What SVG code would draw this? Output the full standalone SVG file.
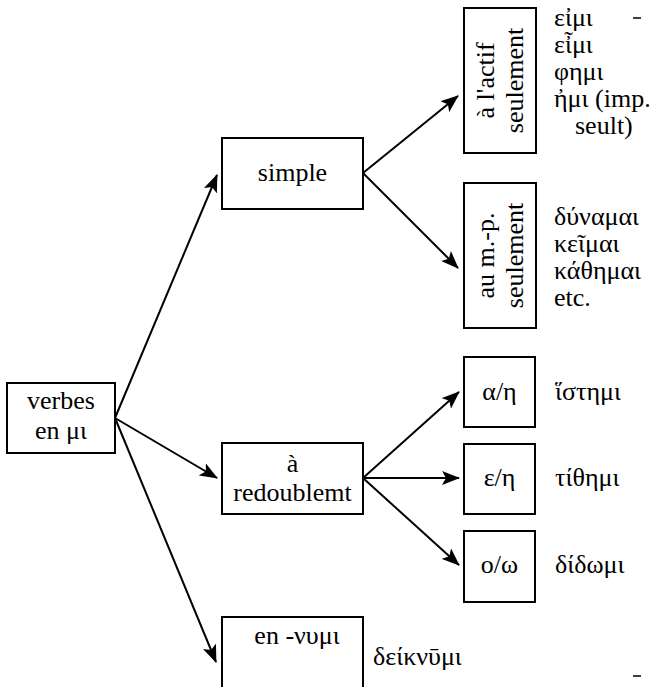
<svg xmlns="http://www.w3.org/2000/svg" width="653" height="687" viewBox="0 0 653 687" font-family="Liberation Serif, DejaVu Serif, serif" font-size="26">
  <style>
    .box { fill: #fff; stroke: #000; stroke-width: 2; }
    .mid { text-anchor: middle; }
    .edge { stroke: #000; stroke-width: 2; fill: none; marker-end: url(#arrow); }
    .tick { stroke: #000; stroke-width: 1.5; }
  </style>
  <defs>
    <marker id="arrow" markerUnits="userSpaceOnUse" markerWidth="18" markerHeight="14" refX="17" refY="7" orient="auto">
      <path d="M0,0 L18,7 L0,14 L4,7 Z" fill="#000"/>
    </marker>
  </defs>

  <rect width="653" height="687" fill="#fff"/>

  <!-- connectors -->
  <g id="connectors">
    <line class="edge" x1="115" y1="418" x2="217" y2="175"/>
    <line class="edge" x1="115" y1="418" x2="217" y2="478"/>
    <line class="edge" x1="115" y1="418" x2="216" y2="662"/>
    <line class="edge" x1="363" y1="173" x2="458" y2="96"/>
    <line class="edge" x1="363" y1="173" x2="458" y2="268"/>
    <line class="edge" x1="363" y1="478" x2="459" y2="392"/>
    <line class="edge" x1="363" y1="478" x2="459" y2="478"/>
    <line class="edge" x1="363" y1="478" x2="459" y2="565"/>
  </g>

  <!-- root -->
  <g id="verbes">
    <rect class="box" x="7" y="383" width="108" height="70"/>
    <text class="mid" x="61" y="409">verbes</text>
    <text class="mid" x="61" y="439">en μι</text>
  </g>

  <!-- first level -->
  <g id="simple">
    <rect class="box" x="222" y="138" width="141" height="71"/>
    <text class="mid" x="292.5" y="181">simple</text>
  </g>
  <g id="redoublemt">
    <rect class="box" x="222" y="443" width="141" height="71"/>
    <text class="mid" x="292.5" y="472">à</text>
    <text class="mid" x="292.5" y="501">redoublemt</text>
  </g>
  <g id="nymi">
    <rect class="box" x="222" y="617" width="141" height="80"/>
    <text class="mid" x="297" y="644">en -νυμι</text>
    <text x="373" y="665">δείκνῡμι</text>
  </g>

  <!-- simple verbs -->
  <g id="actif">
    <rect class="box" x="464" y="8" width="72" height="145"/>
    <text class="mid" transform="translate(500,80.5) rotate(-90)"><tspan x="0" y="-6">à l'actif</tspan><tspan x="0" y="23">seulement</tspan></text>
    <text x="554" y="26">εἰμι</text>
    <text x="554" y="53">εἶμι</text>
    <text x="554" y="80">φημι</text>
    <text x="554" y="107">ἠμι (imp.</text>
    <text x="575" y="134">seult)</text>
  </g>
  <g id="mp">
    <rect class="box" x="464" y="183" width="72" height="145"/>
    <text class="mid" transform="translate(500,255.5) rotate(-90)"><tspan x="0" y="-6">au m.-p.</tspan><tspan x="0" y="23">seulement</tspan></text>
    <text x="554" y="225">δύναμαι</text>
    <text x="554" y="252">κεῖμαι</text>
    <text x="554" y="279">κάθημαι</text>
    <text x="554" y="306">etc.</text>
  </g>

  <!-- reduplicated verbs -->
  <g id="alpha">
    <rect class="box" x="464" y="357" width="71" height="70"/>
    <text class="mid" x="499.5" y="400">α/η</text>
    <text x="555" y="400">ἵστημι</text>
  </g>
  <g id="epsilon">
    <rect class="box" x="464" y="444" width="71" height="70"/>
    <text class="mid" x="499.5" y="486">ε/η</text>
    <text x="555" y="486">τίθημι</text>
  </g>
  <g id="omicron">
    <rect class="box" x="464" y="531" width="71" height="71"/>
    <text class="mid" x="499.5" y="573">ο/ω</text>
    <text x="555" y="573">δίδωμι</text>
  </g>

  <!-- margin marks -->
  <line class="tick" x1="633" y1="18" x2="641" y2="18"/>
  <line class="tick" x1="633" y1="676" x2="641" y2="676"/>
</svg>
